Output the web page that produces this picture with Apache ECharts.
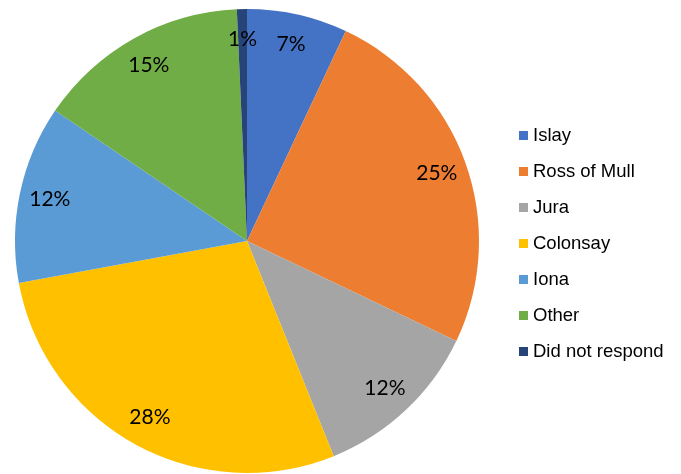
<!DOCTYPE html>
<html><head><meta charset="utf-8">
<script src="https://cdn.jsdelivr.net/npm/echarts@6/dist/echarts.min.js"></script>
<style>html,body{margin:0;padding:0;background:#fff}#c{width:681px;height:474px}</style>
</head><body><div id="c"></div>
<script>
var categories = ['Islay','Ross of Mull','Jura','Colonsay','Iona','Other','Did not respond'];
var values = [7.0, 25.1, 11.8, 28.2, 12.4, 14.8, 0.7];
var colors = ['#4472C4','#ED7D31','#A5A5A5','#FFC000','#5B9BD5','#70AD47','#264478'];

var data = categories.map(function(n,i){return {name:n, value:values[i], itemStyle:{color:colors[i]}};});
var labelData = categories.map(function(n,i){return {name:n, value:values[i]};});

var chart = echarts.init(document.getElementById('c'), null, {renderer:'canvas'});
chart.setOption({
  animation:false,
  legend:{
    orient:'vertical', left:519, top:126, padding:0,
    itemWidth:9, itemHeight:9, itemGap:17, icon:'rect',
    textStyle:{fontFamily:'Liberation Sans, Arial, sans-serif', fontSize:18.5, color:'#000'},
    data:categories
  },
  series:[
    {type:'pie', center:[247,241], radius:[0,232], startAngle:90, clockwise:true,
     label:{show:false}, labelLine:{show:false}, silent:true, data:data},
    {type:'pie', center:[247,241], radius:[165,232], startAngle:90, clockwise:true,
     silent:true, itemStyle:{color:'rgba(0,0,0,0)'},
     label:{show:true, position:'inside', fontFamily:'Lato, Carlito, sans-serif', fontSize:21, color:'#000',
       formatter:function(p){return Math.round(p.value)+'%';}},
     labelLine:{show:false}, legendHoverLink:false, data:labelData}
  ]
});
</script></body></html>
